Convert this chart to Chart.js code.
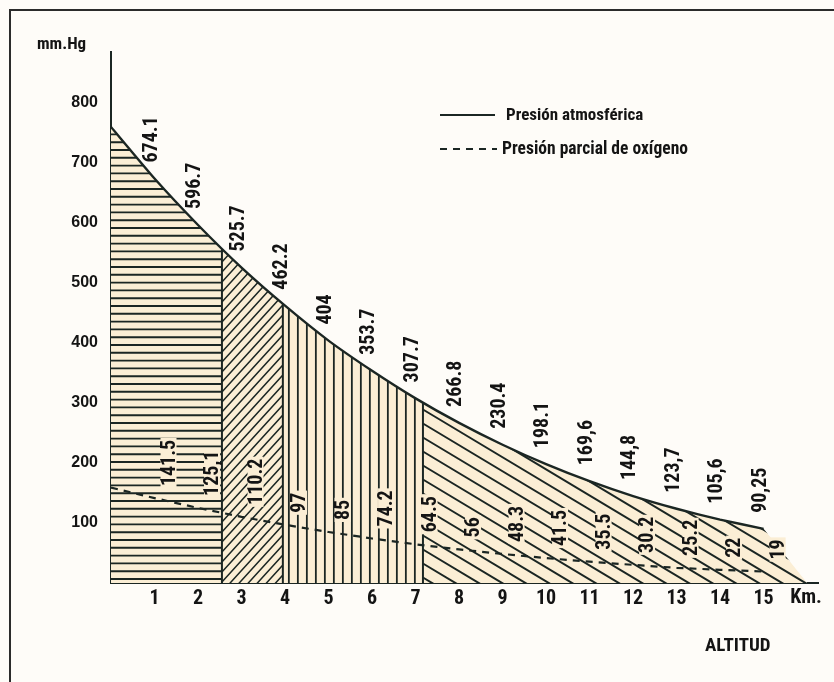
<!DOCTYPE html>
<html>
<head>
<meta charset="utf-8">
<script src="https://cdn.jsdelivr.net/npm/chart.js@4.4.1/dist/chart.umd.min.js"></script>
<style>
html,body{margin:0;padding:0;background:#fefcf8;}
canvas{display:block;}
</style>
</head>
<body>
<canvas id="c" width="834" height="682"></canvas>
<script>
// ---- data ----
const altitudeKm  = [0, 1, 2, 3, 4, 5, 6, 7, 8, 9, 10, 11, 12, 13, 14, 15];
const atmPressure = [760, 674.1, 596.7, 525.7, 462.2, 404, 353.7, 307.7, 266.8, 230.4, 198.1, 169.6, 144.8, 123.7, 105.6, 90.25];
const o2Pressure  = [159, 141.5, 125.1, 110.2, 97, 85, 74.2, 64.5, 56, 48.3, 41.5, 35.5, 30.2, 25.2, 22, 19];
const atmLabels   = ["", "674.1", "596.7", "525.7", "462.2", "404", "353.7", "307.7", "266.8", "230.4", "198.1", "169,6", "144,8", "123,7", "105,6", "90,25"];
const o2Labels    = ["", "141.5", "125,1", "110.2", "97", "85", "74.2", "64.5", "56", "48.3", "41.5", "35.5", "30.2", "25.2", "22", "19"];
const xTickValues = [1, 2, 3, 4, 5, 6, 7, 8, 9, 10, 11, 12, 13, 14, 15];
const yTickValues = [100, 200, 300, 400, 500, 600, 700, 800];
const zoneBreaksKm = [2.55, 3.95, 7.17];
const regionEndKm = 16.0;
const legendTexts = ["Presión atmosférica", "Presión parcial de oxígeno"];

// ---- styles ----
const INK = '#1b2623';
const CREAM = '#fbeed5';
const BG = '#fefcf8';
const NARROW = '"Roboto Condensed", "Open Sans Condensed", "Liberation Sans", sans-serif';
const WIDE = '"Liberation Sans", Arial, sans-serif';
const CURVE_TENSION = 0.15;

const bgPlugin = {
  id: 'bg',
  beforeDraw(chart) {
    const ctx = chart.ctx;
    ctx.save();
    ctx.fillStyle = BG;
    ctx.fillRect(0, 0, chart.width, chart.height);
    ctx.restore();
  }
};

function tracePolyline(ctx, pts, tension) {
  for (let i = 1; i < pts.length; i++) {
    const p = pts[i], q = pts[i - 1];
    if (tension > 0 && q.cp2x !== undefined && p.cp1x !== undefined) {
      ctx.bezierCurveTo(q.cp2x, q.cp2y, p.cp1x, p.cp1y, p.x, p.y);
    } else {
      ctx.lineTo(p.x, p.y);
    }
  }
}

const hatchPlugin = {
  id: 'hatch',
  beforeDatasetsDraw(chart) {
    const ctx = chart.ctx;
    const xs = chart.scales.x, ys = chart.scales.y;
    const pts = chart.getDatasetMeta(0).data;
    const base = ys.getPixelForValue(0);
    const top = chart.chartArea.top;
    const xEnd = xs.getPixelForValue(regionEndKm);
    const edges = [xs.getPixelForValue(altitudeKm[0])]
      .concat(zoneBreaksKm.map(k => xs.getPixelForValue(k)), [xEnd]);

    ctx.save();
    ctx.beginPath();
    ctx.moveTo(pts[0].x, base);
    ctx.lineTo(pts[0].x, pts[0].y);
    tracePolyline(ctx, pts, CURVE_TENSION);
    ctx.lineTo(xEnd, base);
    ctx.closePath();
    ctx.fillStyle = CREAM;
    ctx.fill();
    ctx.clip();

    ctx.strokeStyle = INK;
    ctx.lineCap = 'butt';

    const zone = (i, fn) => {
      const x0 = edges[i], x1 = edges[i + 1];
      ctx.save();
      ctx.beginPath();
      ctx.rect(x0, top, x1 - x0, base - top);
      ctx.clip();
      ctx.beginPath();
      fn(x0, x1);
      ctx.stroke();
      ctx.restore();
    };

    // zone 1: horizontal lines
    ctx.lineWidth = 1.9;
    zone(0, (x0, x1) => {
      for (let y = base - 4; y > top; y -= 7.8) {
        ctx.moveTo(x0, y); ctx.lineTo(x1, y);
      }
    });
    // zone 2: rising diagonals
    ctx.lineWidth = 1.5;
    zone(1, (x0, x1) => {
      const w = x1 - x0, s = 1.1;
      for (let y = top; y < base + s * w + 20; y += 10) {
        ctx.moveTo(x0, y); ctx.lineTo(x1, y - s * w);
      }
    });
    // zone 3: vertical lines
    ctx.lineWidth = 1.8;
    zone(2, (x0, x1) => {
      for (let x = x0 + 6; x < x1 - 2; x += 9) {
        ctx.moveTo(x, top); ctx.lineTo(x, base);
      }
    });
    // zone 4: falling diagonals
    ctx.lineWidth = 2;
    zone(3, (x0, x1) => {
      const w = x1 - x0, s = 0.6;
      for (let y = top - s * w; y < base + 20; y += 14) {
        ctx.moveTo(x0, y); ctx.lineTo(x1, y + s * w);
      }
    });

    // zone separators
    ctx.lineWidth = 2;
    ctx.beginPath();
    zoneBreaksKm.forEach(k => {
      const x = xs.getPixelForValue(k);
      ctx.moveTo(x, base); ctx.lineTo(x, top);
    });
    ctx.stroke();
    ctx.restore();
  }
};

function rotatedLabel(ctx, text, cx, bottomY, bg) {
  ctx.save();
  ctx.translate(cx, bottomY);
  ctx.rotate(-Math.PI / 2);
  ctx.font = 'bold 20px ' + NARROW;
  ctx.textBaseline = 'middle';
  ctx.textAlign = 'left';
  if (bg) {
    const w = ctx.measureText(text).width;
    ctx.fillStyle = CREAM;
    ctx.fillRect(-2, -8, w + 4, 16);
  }
  ctx.fillStyle = '#141414';
  ctx.fillText(text, 0, 1);
  ctx.restore();
}

const annotPlugin = {
  id: 'annot',
  afterDatasetsDraw(chart) {
    const ctx = chart.ctx;
    const xs = chart.scales.x, ys = chart.scales.y;
    altitudeKm.forEach((k, i) => {
      if (atmLabels[i]) rotatedLabel(ctx, atmLabels[i], xs.getPixelForValue(k) - 4, ys.getPixelForValue(atmPressure[i]) - 16, false);
      if (o2Labels[i]) rotatedLabel(ctx, o2Labels[i], xs.getPixelForValue(k) + 14, ys.getPixelForValue(o2Pressure[i]) - 12, true);
    });
  },
  afterDraw(chart) {
    const ctx = chart.ctx;
    ctx.save();
    // frame
    ctx.strokeStyle = '#2b2b2b';
    ctx.lineWidth = 2;
    ctx.beginPath();
    ctx.moveTo(10, chart.height); ctx.lineTo(10, 10); ctx.lineTo(chart.width, 10);
    ctx.stroke();

    ctx.fillStyle = '#141414';
    ctx.textBaseline = 'middle';
    ctx.font = 'bold 17px ' + NARROW;
    ctx.textAlign = 'left';
    ctx.fillText('mm.Hg', 37, 45);
    ctx.font = 'bold 20px ' + NARROW;
    ctx.textAlign = 'center';
    ctx.fillText('Km.', 806, 598);
    ctx.font = 'bold 19px ' + NARROW;
    ctx.textAlign = 'left';
    ctx.fillText('ALTITUD', 705, 646);

    // legend
    ctx.strokeStyle = INK;
    ctx.lineWidth = 2;
    ctx.beginPath(); ctx.moveTo(440, 115); ctx.lineTo(495, 115); ctx.stroke();
    ctx.setLineDash([7, 6]);
    ctx.beginPath(); ctx.moveTo(440, 149); ctx.lineTo(497, 149); ctx.stroke();
    ctx.setLineDash([]);
    ctx.font = 'bold 17px ' + NARROW;
    ctx.fillText(legendTexts[0], 506, 116);
    ctx.font = 'bold 17.5px ' + NARROW;
    ctx.fillText(legendTexts[1], 502, 150);
    ctx.restore();
  }
};

const chart = new Chart(document.getElementById('c'), {
  type: 'line',
  data: {
    datasets: [
      {
        label: legendTexts[0],
        data: altitudeKm.map((k, i) => ({x: k, y: atmPressure[i]})),
        borderColor: INK,
        borderWidth: 2.4,
        pointRadius: 0,
        tension: CURVE_TENSION,
        fill: false
      },
      {
        label: legendTexts[1],
        data: altitudeKm.map((k, i) => ({x: k, y: o2Pressure[i]})),
        borderColor: INK,
        borderWidth: 2.2,
        borderDash: [7, 6],
        pointRadius: 0,
        tension: 0,
        fill: false
      }
    ]
  },
  options: {
    responsive: false,
    animation: false,
    layout: {padding: {top: 52, right: 16, left: 0, bottom: 0}},
    plugins: {legend: {display: false}, tooltip: {enabled: false}},
    scales: {
      x: {
        type: 'linear',
        min: 0,
        max: 16.25,
        afterBuildTicks: s => { s.ticks = xTickValues.map(v => ({value: v})); },
        afterFit: s => { s.height = 99; },
        ticks: {
          autoSkip: false, maxRotation: 0, padding: 4,
          color: '#141414',
          font: {family: NARROW, size: 20, weight: 'bold'}
        },
        grid: {display: true, drawOnChartArea: false, drawTicks: false},
        border: {display: true, color: INK, width: 2}
      },
      y: {
        min: 0,
        max: 885,
        afterBuildTicks: s => { s.ticks = yTickValues.map(v => ({value: v})); },
        afterFit: s => { s.width = 111; },
        ticks: {
          padding: 13,
          color: '#141414',
          font: {family: WIDE, size: 16, weight: 'bold'}
        },
        grid: {display: true, drawOnChartArea: false, drawTicks: false},
        border: {display: true, color: INK, width: 2}
      }
    }
  },
  plugins: [bgPlugin, hatchPlugin, annotPlugin]
});
</script>
</body>
</html>
